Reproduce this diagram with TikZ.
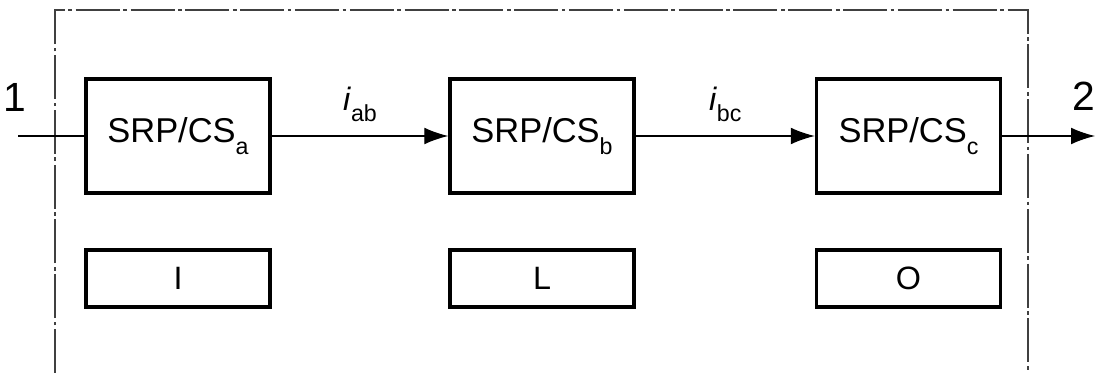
\documentclass[tikz,border=0pt]{standalone}
\usepackage{fontspec}
\setmainfont{Liberation Sans}
\usetikzlibrary{arrows.meta}

\tikzset{
    block/.style={draw,line width=2.4pt,minimum width=4.6cm,minimum height=2.85cm,
        inner sep=0pt,font=\fontsize{24.5}{28}\selectfont},
    level/.style={draw,line width=2.4pt,minimum width=4.6cm,minimum height=1.425cm,
        inner sep=0pt,font=\fontsize{23}{26}\selectfont},
    flow/.style={line width=1pt,-{Latex[length=0.6cm,width=0.42cm]}},
    port/.style={font=\fontsize{29}{32}\selectfont},
    sig/.style={font=\fontsize{23}{26}\selectfont},
}
\newcommand{\sub}[1]{\raisebox{-0.35em}{\fontsize{16.5}{18}\selectfont #1}}

\begin{document}
\begin{tikzpicture}[x=0.025cm,y=-0.025cm]
    \useasboundingbox (0,0) rectangle (1095,373);
    % system boundary
    \draw[line width=1pt,black!75,dash pattern=on 1.1cm off 0.09cm on 0.09cm off 0.09cm]
        (55,373) -- (55,10) -- (1028,10) -- (1028,373);
    % subsystems
    \node[block] (a) at (178,136) {SRP/CS\sub{a}};
    \node[block] (b) at (542,136) {SRP/CS\sub{b}};
    \node[block] (c) at (908.5,136) {SRP/CS\sub{c}};
    \node[level] (la) at (178,278.5) {I};
    \node[level] (lb) at (542,278.5) {L};
    \node[level] (lc) at (908.5,278.5) {O};
    % ports
    \coordinate (in) at (18,136);
    \coordinate (out) at (1095,136);
    \node[port] (p1) at (15,97) {1};
    \node[port] (p2) at (1084,96) {2};
    % signal flow
    \draw[line width=1pt] (in) -- (a);
    \draw[flow] (a) -- (b) node[sig,midway,above=0.22cm] (iab) {\textit{i}\sub{ab}};
    \draw[flow] (b) -- (c) node[sig,midway,above=0.22cm] (ibc) {\textit{i}\sub{bc}};
    \draw[flow] (c) -- (out);
\end{tikzpicture}
\end{document}
